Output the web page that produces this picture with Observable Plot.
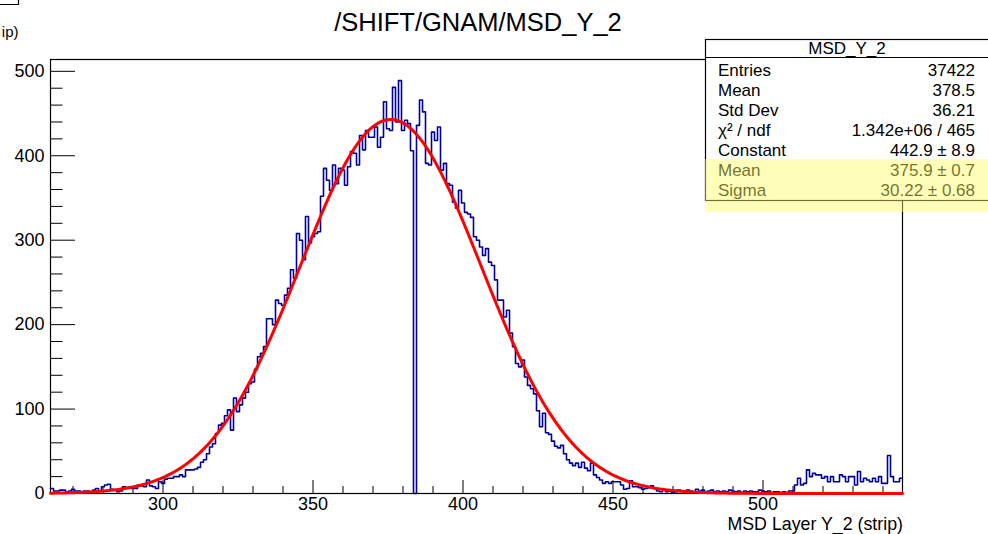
<!DOCTYPE html>
<html>
<head>
<meta charset="utf-8">
<script src="https://cdn.jsdelivr.net/npm/d3@7"></script>
<script src="https://cdn.jsdelivr.net/npm/@observablehq/plot@0.6"></script>
<style>
html, body { margin: 0; padding: 0; background: #fff; overflow: hidden; }
#chart svg { display: block; }
</style>
</head>
<body>
<div id="chart"></div>
<script>
// ---- Data ----
const firstStrip = 263;               // centre of the first bin (bins are 1 strip wide)
const counts263to279 = [6,3,3,4,4,2,3,5,3,3,2,3,3,2,4,6,3];
const counts280to299 = [8,10,11,5,4,2,3,8,7,7,6,6,10,9,8,16,9,8,6,14];
const counts300to319 = [12,17,18,18,20,20,22,20,28,28,28,29,31,37,40,47,55,59,71,81];
const counts320to339 = [83,92,99,75,113,97,105,113,120,130,132,147,162,166,174,207,207,200,229,225];
const counts340to359 = [223,235,243,265,255,308,300,277,328,297,304,308,310,352,385,371,359,389,367,385];
const counts360to379 = [383,365,387,405,403,389,424,407,430,422,422,434,410,422,464,432,430,481,440,489];
const counts380to399 = [430,442,438,406,0,436,466,452,391,389,428,418,434,383,391,367,365,345,338,359];
const counts400to419 = [344,333,331,327,304,300,292,282,290,274,270,253,229,229,209,217,190,174,154,150];
const counts420to439 = [158,138,128,124,118,98,79,95,72,70,62,56,54,57,47,40,36,33,36,31];
const counts440to459 = [37,30,27,36,22,19,16,12,14,12,14,14,14,10,5,6,15,8,8,7];
const counts460to479 = [5,6,7,9,6,3,2,4,2,3,1,2,4,3,2,4,3,2,5,3];
const counts480to499 = [4,2,3,4,2,3,2,3,2,4,3,2,3,1,3,2,3,2,2,4];
const counts500to519 = [3,2,3,1,2,2,1,2,1,3,3,10,18,10,12,28,20,24,22,22];
const counts520to539 = [18,20,14,20,14,14,22,20,14,20,20,10,26,14,18,16,14,18,14,20];
const counts540to546 = [12,12,45,20,14,14,18];

// Gaussian fit parameters (from the stats box)
const fitConstant = 442.9;
const fitMean = 375.9;
const fitSigma = 30.22;

// Axes
const xDomain = [262.5, 546.5];
const yDomain = [0, 514];
const xMajor = [300, 350, 400, 450, 500];
const xMinor = [270, 280, 290, 310, 320, 330, 340, 360, 370, 380, 390, 410, 420, 430, 440, 460, 470, 480, 490, 510, 520, 530, 540];
const yMajor = [0, 100, 200, 300, 400, 500];
const yMinor = [20, 40, 60, 80, 120, 140, 160, 180, 220, 240, 260, 280, 320, 340, 360, 380, 420, 440, 460, 480];

// Texts
const titleText = "/SHIFT/GNAM/MSD_Y_2";
const xTitle = "MSD Layer Y_2 (strip)";
const statsTitle = "MSD_Y_2";
const statsLabels = ["Entries", "Mean", "Std Dev", "\u03C7\u00B2 / ndf", "Constant", "Mean", "Sigma"];
const statsValues = ["37422", "378.5", "36.21", "1.342e+06 / 465", "442.9 \u00B1 8.9", "375.9 \u00B1 0.7", "30.22 \u00B1 0.68"];

// ---- Build tables ----
const counts = [].concat(counts263to279, counts280to299, counts300to319, counts320to339,
  counts340to359, counts360to379, counts380to399, counts400to419, counts420to439,
  counts440to459, counts460to479, counts480to499, counts500to519, counts520to539, counts540to546);
const strips = counts.map((_, i) => firstStrip + i);
const stepData = strips.map((s, i) => ({x: s - 0.5, y: counts[i]}));
stepData.push({x: strips[strips.length - 1] + 0.5, y: counts[counts.length - 1]});
const fitCurve = d3.range(xDomain[0], xDomain[1] + 1e-9, 0.5)
  .map(x => ({x, y: fitConstant * Math.exp(-0.5 * ((x - fitMean) / fitSigma) ** 2)}));

// ---- Layout ----
const W = 988, H = 534;
const mL = 50, mR = 86, mT = 59, mB = 41;
const innerW = W - mL - mR, innerH = H - mT - mB;
const FONT = "'Liberation Sans', Arial, Helvetica, sans-serif";

const svg = Plot.plot({
  width: W, height: H,
  marginLeft: mL, marginRight: mR, marginTop: mT, marginBottom: mB,
  x: {domain: xDomain},
  y: {domain: yDomain},
  style: {fontFamily: FONT, fontSize: "18px", color: "#000", background: "#fff"},
  marks: [
    Plot.ruleY(yMinor, {insetRight: innerW - 12.5, stroke: "#000", strokeWidth: 1}),
    Plot.ruleY(yMajor, {insetRight: innerW - 25, stroke: "#000", strokeWidth: 1}),
    Plot.ruleX(xMinor, {insetTop: innerH - 7, stroke: "#000", strokeWidth: 1}),
    Plot.ruleX(xMajor, {insetTop: innerH - 13, stroke: "#000", strokeWidth: 1}),
    Plot.axisY(yMajor, {tickSize: 0, tickPadding: 6, label: null, tickFormat: d => String(d)}),
    Plot.axisX(xMajor, {tickSize: 0, tickPadding: 4, label: null, tickFormat: d => String(d)}),
    Plot.line(stepData, {x: "x", y: "y", curve: "step-after", stroke: "#000099", strokeWidth: 1.6}),
    Plot.frame({stroke: "#000", strokeWidth: 1.2}),
    Plot.line(fitCurve, {x: "x", y: "y", stroke: "#ff0000", strokeWidth: 3})
  ]
});
document.getElementById("chart").appendChild(svg);

// ---- Annotations (title, axis title, stats box) ----
const g = d3.select(svg).append("g").attr("font-family", FONT).attr("fill", "#000")
  .attr("text-anchor", "start");

// fragment of a neighbouring pad at the top-left corner
g.append("path").attr("d", "M0,4.5H18.5V0").attr("fill", "none").attr("stroke", "#000").attr("stroke-width", 1.2);
g.append("text").attr("x", 18.5).attr("y", 37).attr("text-anchor", "end").attr("font-size", 15).text("ip)");

g.append("text").attr("x", 478).attr("y", 31).attr("text-anchor", "middle")
  .attr("font-size", 25.5).text(titleText);

g.append("text").attr("x", W - mR + 1).attr("y", 529.5).attr("text-anchor", "end")
  .attr("font-size", 17.8).text(xTitle);

// stats box
const bx = 705.5, by = 39.5, bBottom = 200.5;
g.append("rect").attr("x", bx).attr("y", by).attr("width", 300).attr("height", bBottom - by)
  .attr("fill", "#fff").attr("stroke", "#000").attr("stroke-width", 1.2);
g.append("line").attr("x1", bx).attr("x2", W + 10).attr("y1", 57.5).attr("y2", 57.5)
  .attr("stroke", "#000").attr("stroke-width", 1.2);
g.append("text").attr("x", 847).attr("y", 54).attr("text-anchor", "middle")
  .attr("font-size", 17).text(statsTitle);
statsLabels.forEach((lab, i) => {
  const yb = 76 + i * 20;
  g.append("text").attr("x", 718).attr("y", yb).attr("text-anchor", "start").attr("font-size", 17).text(lab);
  g.append("text").attr("x", 975).attr("y", yb).attr("text-anchor", "end").attr("font-size", 17).text(statsValues[i]);
});
// translucent yellow highlight over the last two rows
g.append("rect").attr("x", 705).attr("y", 159).attr("width", W - 705).attr("height", 53)
  .attr("fill", "#ffff66").attr("fill-opacity", 0.45);
</script>
</body>
</html>
